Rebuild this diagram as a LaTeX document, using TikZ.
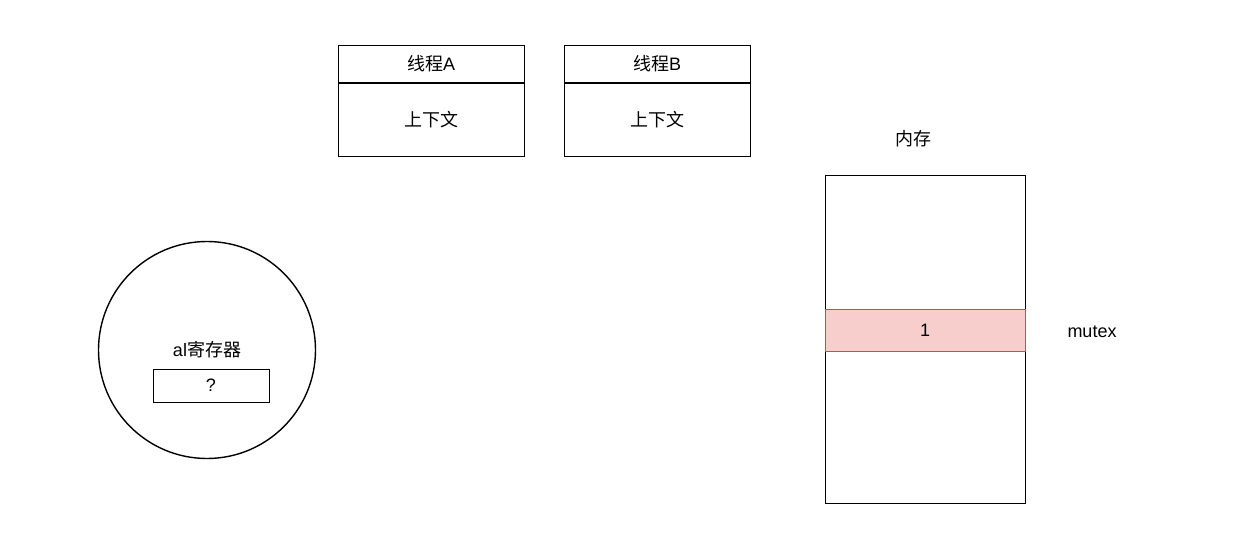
\documentclass[tikz,border=0pt]{standalone}
\usepackage{fontspec}
\setmainfont{Liberation Sans}
\newfontfamily\cjk{Noto Sans CJK SC}
\definecolor{redfill}{HTML}{F8CECC}
\definecolor{redline}{HTML}{B85450}
\begin{document}
\begin{tikzpicture}[x=1pt,y=-1pt,
  box/.style={draw=black,line width=1.4pt},
  lbl/.style={inner sep=0pt,font=\fontsize{18}{21}\selectfont}
]
\useasboundingbox[fill=white] (0,0) rectangle (1240,551);
% Thread A
\node[box,minimum width=186pt,minimum height=111pt,inner sep=0pt,anchor=north west] (ta) at (338,45) {};
\coordinate (tadl) at (338,83);
\coordinate (tadr) at (524,83);
\draw[line width=1.4pt] (tadl) -- (tadr);
\node[lbl] (tat) at (431,64) {{\cjk 线程}A};
\node[lbl] (tac) at (431,120) {\cjk 上下文};
% Thread B
\node[box,minimum width=186pt,minimum height=111pt,inner sep=0pt,anchor=north west] (tb) at (564,45) {};
\coordinate (tbdl) at (564,83);
\coordinate (tbdr) at (750,83);
\draw[line width=1.4pt] (tbdl) -- (tbdr);
\node[lbl] (tbt) at (657,64) {{\cjk 线程}B};
\node[lbl] (tbc) at (657,120) {\cjk 上下文};
% Memory
\node[lbl] (memt) at (913,139) {\cjk 内存};
\node[box,minimum width=200pt,minimum height=328pt,inner sep=0pt,anchor=north west] (mem) at (825,175) {};
\node[draw=redline,fill=redfill,line width=1.4pt,minimum width=200pt,minimum height=42pt,inner sep=0pt,anchor=north west] (mx) at (825,309) {};
\node[lbl] (one) at (925,330) {1};
\node[lbl] (mutex) at (1092,332) {mutex};
% Register
\node[box,circle,minimum size=217pt,inner sep=0pt] (reg) at (207,350) {};
\node[lbl] (regt) at (207,350) {al{\cjk 寄存器}};
\node[box,minimum width=116pt,minimum height=33pt,inner sep=0pt,anchor=north west] (val) at (153,369) {};
\node[lbl] (q) at (211,385) {?};
\end{tikzpicture}
\end{document}
